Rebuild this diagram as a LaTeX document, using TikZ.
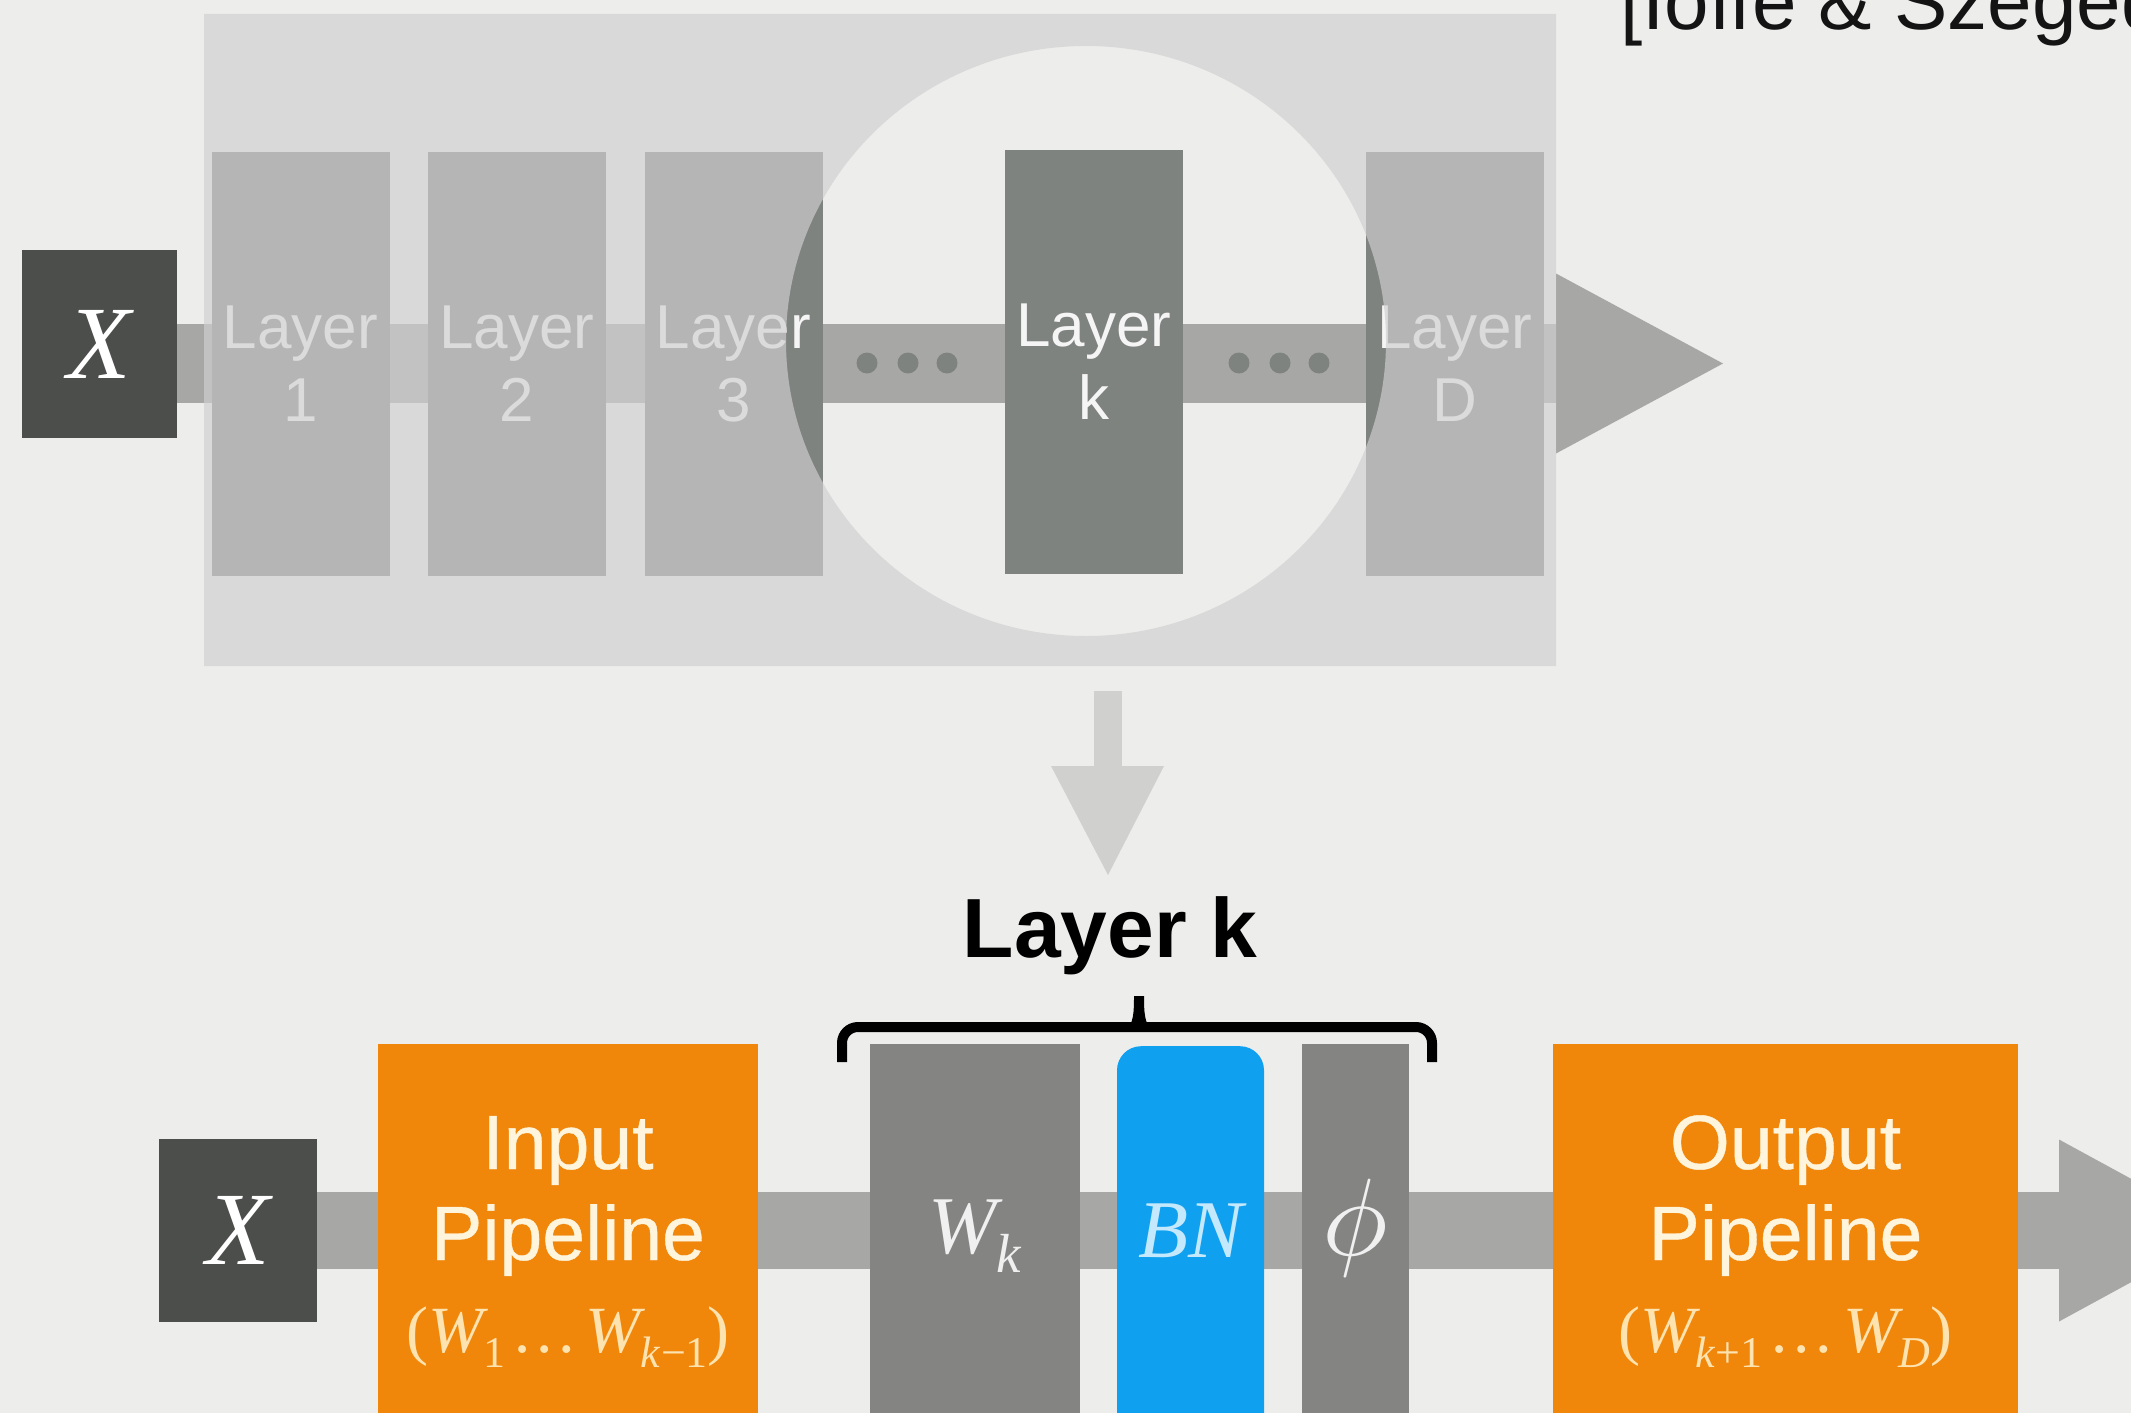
\documentclass[tikz,border=0pt]{standalone}
\usepackage{fontspec}
\setmainfont{Liberation Sans}
\newfontfamily\tnr{Liberation Serif}
\newfontfamily\medsans[FakeBold=0.5]{Liberation Sans}
\usetikzlibrary{calc}
\definecolor{bgc}{HTML}{EDEEEC}
\definecolor{xc}{HTML}{4C4E4B}
\definecolor{layc}{HTML}{7F8380}
\definecolor{barc}{HTML}{A7A8A6}
\definecolor{ovc}{HTML}{CFCFCF}
\definecolor{lightc}{HTML}{D0D1CF}
\definecolor{orc}{HTML}{F0860A}
\definecolor{creamc}{HTML}{FFF4DC}
\definecolor{peachc}{HTML}{FDE3B0}
\definecolor{bluec}{HTML}{0FA0F0}
\definecolor{bntc}{HTML}{C4E9FC}
\definecolor{gboxc}{HTML}{848583}
\newcommand\sbx[2]{\raisebox{-0.24em}{\fontsize{#1}{#1}\selectfont #2}}
\begin{document}
\begin{tikzpicture}[x=1pt,y=-1pt,
  xbox/.style={fill=xc,text=white,inner sep=0,font=\tnr\itshape\fontsize{104}{110}\selectfont},
  layerbox/.style={fill=layc,text=white!96!black,inner sep=0,minimum width=178,minimum height=424,align=center,font=\fontsize{62}{73}\selectfont},
  barline/.style={draw=barc},
  obox/.style={fill=orc,inner sep=0,anchor=north,minimum height=420},
  gbox/.style={fill=gboxc,inner sep=0,anchor=north,minimum height=420},
  otext/.style={anchor=base,text=creamc,inner sep=0,font=\medsans\fontsize{77}{90}\selectfont},
  ftext/.style={anchor=base,text=peachc,inner sep=0,font=\tnr\itshape\fontsize{66}{70}\selectfont},
]
\clip (0,0) rectangle (2131,1413);
\fill[bgc] (0,0) rectangle (2131,1413);

% ---------- top network ----------
\node[xbox,minimum width=155,minimum height=188] (X1) at (99.5,344) {X};
\coordinate (topend) at (1556,363.5);
\draw[barline,line width=79] (X1.east |- topend) -- (topend);
\fill[barc] ($(topend)+(0,-90)$) -- ($(topend)+(167,0)$) -- ($(topend)+(0,90)$) -- cycle;

\node[layerbox] (L1) at (300.5,364) {Layer\\1};
\node[layerbox] (L2) at (517,364) {Layer\\2};
\node[layerbox] (L3) at (733.5,364) {Layer\\3};
\node[layerbox] (Lk) at (1094,362) {Layer\\k};
\node[layerbox] (LD) at (1455,364) {Layer\\D};

\foreach \px in {867,908,947,1239,1280,1319}
  \fill[layc] (\px,363) circle[radius=10.5];

% translucent veil with elliptic spotlight
\fill[ovc,opacity=0.67,even odd rule] (204,14) rectangle (1556,666)
  (1086,341) ellipse[x radius=300,y radius=295];

\node[anchor=base west,inner sep=0,text=black!92,font=\fontsize{80}{96}\selectfont] (cite) at (1620,30) {[Ioffe \& Szegedy]};

% ---------- zoom arrow ----------
\coordinate (dtop) at (1108,691);
\coordinate (dbase) at (1108,766);
\draw[lightc,line width=28] (dtop) -- (dbase);
\fill[lightc] ($(dbase)+(-57,0)$) -- ($(dbase)+(0,109)$) -- ($(dbase)+(56,0)$) -- cycle;

\node[anchor=base,inner sep=0,font=\bfseries\fontsize{84}{100}\selectfont] (lkt) at (1110,957) {Layer k};

% brace
\coordinate (bl) at (842,1062);
\coordinate (br) at (1432,1062);
\draw[line width=10,rounded corners=16] (bl) -- (842,1027) -- (1432,1027) -- (br);
\fill (1125,1031) .. controls (1134,1025) and (1134,1010) .. (1134,996) -- (1144,996) .. controls (1144,1010) and (1144,1025) .. (1153,1031) -- cycle;

% ---------- bottom pipeline ----------
\node[xbox,minimum width=158,minimum height=183] (X2) at (238,1230.5) {X};
\coordinate (botend) at (2059,1230.5);
\draw[barline,line width=77] (X2.east |- botend) -- (botend);
\fill[barc] ($(botend)+(0,-91)$) -- ($(botend)+(167,0)$) -- ($(botend)+(0,91)$) -- cycle;

\node[obox,minimum width=380] (inp) at (568,1044) {};
\node[otext] (inp1) at (568,1169) {Input};
\node[otext] (inp2) at (568,1260) {Pipeline};
\node[ftext] (inpf) at (568,1352) {\textup{(}W\sbx{44}{\textup{1}}\,\dots\,W\sbx{44}{k\textup{−1}}\textup{)}};

\node[gbox,minimum width=210] (wk) at (975,1044) {};
\node[anchor=base,inner sep=0,text=white!94!black,font=\tnr\itshape\fontsize{82}{90}\selectfont] (wkt) at (975,1253) {W\sbx{55}{k}};

\node[fill=bluec,inner sep=0,anchor=north,minimum width=147,minimum height=420,rounded corners=24] (bn) at (1190.5,1046) {};
\node[anchor=base,inner sep=0,text=bntc,font=\tnr\itshape\fontsize{82}{90}\selectfont] (bnt) at (1190.5,1257) {BN};

\node[gbox,minimum width=107] (phi) at (1355.5,1044) {};
\node[inner sep=0,text=white!94!black] (phit) at (1355.5,1228) {\scalebox{11}{$\phi$}};

\node[obox,minimum width=465] (outp) at (1785.5,1044) {};
\node[otext] (out1) at (1785.5,1169) {Output};
\node[otext] (out2) at (1785.5,1260) {Pipeline};
\node[ftext] (outf) at (1785.5,1352) {\textup{(}W\sbx{44}{k\textup{+1}}\,\dots\,W\sbx{44}{D}\textup{)}};
\end{tikzpicture}
\end{document}
